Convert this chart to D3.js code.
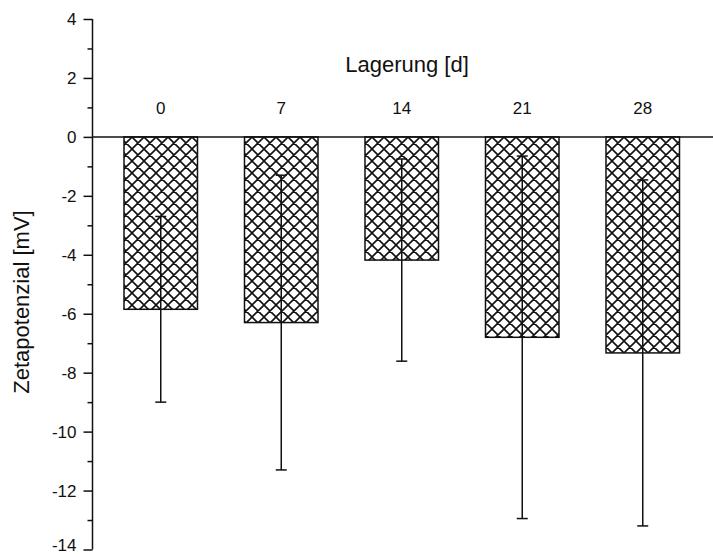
<!DOCTYPE html>
<html>
<head>
<meta charset="utf-8">
<script src="https://cdn.jsdelivr.net/npm/d3@7"></script>
<style>
  html, body { margin: 0; padding: 0; background: #fff; }
  svg { display: block; font-family: "Liberation Sans", Arial, sans-serif; }
</style>
</head>
<body>
<svg id="chart" width="713" height="557"></svg>
<script>
// Storage days (categories)
const days = ["0", "7", "14", "21", "28"];
// Mean zeta potential per storage day [mV]
const meanValues = [-5.85, -6.3, -4.18, -6.8, -7.33];
// Standard deviation per storage day [mV]
const sdValues = [3.15, 5.0, 3.43, 6.15, 5.87];
// Y axis ticks
const majorTicks = [4, 2, 0, -2, -4, -6, -8, -10, -12, -14];
const minorTicks = [3, 1, -1, -3, -5, -7, -9, -11, -13];

const svg = d3.select("#chart");

const axisX = 92.5;
const y = d3.scaleLinear().domain([4, -14]).range([19, 549.5]);
const x = d3.scaleBand()
  .domain(days)
  .range([100.5, 703])
  .paddingInner(0.39)
  .paddingOuter(0.195);

// Crosshatch fill for the bars
const defs = svg.append("defs");
const pat = defs.append("pattern")
  .attr("id", "xhatch")
  .attr("patternUnits", "userSpaceOnUse")
  .attr("width", 12).attr("height", 12)
  .attr("x", 0).attr("y", 137);
pat.append("rect").attr("width", 12).attr("height", 12).attr("fill", "#fff");
pat.append("path")
  .attr("d", "M0,0L12,12M0,12L12,0M-1,1L1,-1M11,13L13,11M-1,11L1,13M11,-1L13,1")
  .attr("stroke", "#111").attr("stroke-width", 1.6).attr("fill", "none");

const data = days.map((d, i) => ({ day: d, mean: meanValues[i], sd: sdValues[i] }));

// Bars
svg.append("g").selectAll("rect")
  .data(data)
  .join("rect")
  .attr("x", d => x(d.day))
  .attr("width", x.bandwidth())
  .attr("y", y(0))
  .attr("height", d => y(d.mean) - y(0))
  .attr("fill", "url(#xhatch)")
  .attr("stroke", "#111")
  .attr("stroke-width", 1.5);

// Error bars (mean ± sd)
const eb = svg.append("g").attr("stroke", "#111").attr("stroke-width", 1.5);
data.forEach(d => {
  const cx = x(d.day) + x.bandwidth() / 2;
  const top = y(d.mean + d.sd), bot = y(d.mean - d.sd);
  eb.append("line").attr("x1", cx).attr("x2", cx).attr("y1", top).attr("y2", bot);
  eb.append("line").attr("x1", cx - 5.5).attr("x2", cx + 5.5).attr("y1", top).attr("y2", top);
  eb.append("line").attr("x1", cx - 5.5).attr("x2", cx + 5.5).attr("y1", bot).attr("y2", bot);
});

// Zero line across the plot
svg.append("line")
  .attr("x1", axisX).attr("x2", 713)
  .attr("y1", y(0)).attr("y2", y(0))
  .attr("stroke", "#111").attr("stroke-width", 1.5);

// Y axis with major and minor ticks
const yAxis = d3.axisLeft(y).tickValues(majorTicks).tickSize(9).tickPadding(7)
  .tickFormat(d => d3.format("d")(d).replace("−", "-"));
const gy = svg.append("g").attr("transform", `translate(${axisX},0)`).call(yAxis);
gy.select(".domain").attr("d", `M0,${y(4)}V${y(-14)}`).attr("stroke", "#111").attr("stroke-width", 1.5);
gy.selectAll(".tick line").attr("stroke", "#111").attr("stroke-width", 1.5);
gy.selectAll(".tick text").attr("font-size", 17).attr("fill", "#111")
  .attr("font-family", "'Liberation Sans', Arial, sans-serif");
// keep the lowest tick label inside the canvas
gy.selectAll(".tick text").filter(d => d === -14).attr("y", -4);
const gMinor = svg.append("g").attr("transform", `translate(${axisX},0)`).call(
  d3.axisLeft(y).tickValues(minorTicks).tickSize(5).tickFormat(""));
gMinor.select(".domain").remove();
gMinor.selectAll(".tick line").attr("stroke", "#111").attr("stroke-width", 1.5);

// Category labels above the bars
svg.append("g").selectAll("text")
  .data(days)
  .join("text")
  .attr("x", d => x(d) + x.bandwidth() / 2)
  .attr("y", 114)
  .attr("text-anchor", "middle")
  .attr("font-size", 17)
  .attr("fill", "#111")
  .text(d => d);

// Category axis title
svg.append("text")
  .attr("x", 407).attr("y", 72)
  .attr("text-anchor", "middle")
  .attr("font-size", 22)
  .attr("fill", "#111")
  .text("Lagerung [d]");

// Y axis title
svg.append("text")
  .attr("transform", "translate(29,302) rotate(-90)")
  .attr("text-anchor", "middle")
  .attr("font-size", 22)
  .attr("fill", "#111")
  .text("Zetapotenzial [mV]");
</script>
</body>
</html>
